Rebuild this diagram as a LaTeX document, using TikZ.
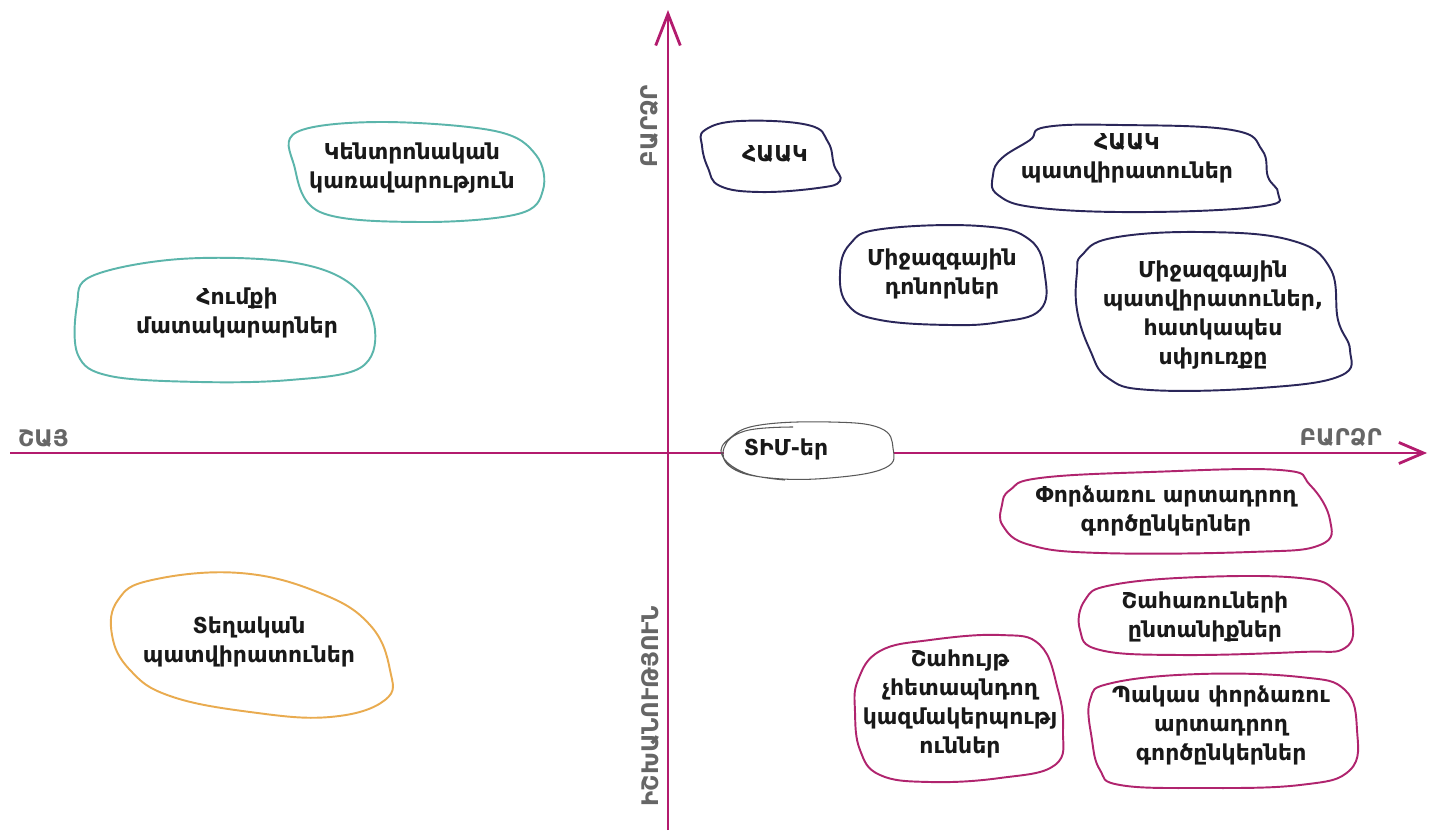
\documentclass[tikz,border=0pt]{standalone}
\usepackage{fontspec}
\setmainfont{DejaVu Sans}
\usetikzlibrary{arrows.meta, positioning}

\definecolor{axisred}{HTML}{B31B6E}
\definecolor{tealline}{HTML}{5BB5AB}
\definecolor{navyline}{HTML}{2A2659}
\definecolor{plumline}{HTML}{B0246E}
\definecolor{amberline}{HTML}{E9AB4F}
\definecolor{labelgray}{HTML}{666666}

\begin{document}
\begin{tikzpicture}[
        x=0.02cm, y=-0.02cm,
        actor/.style={align=center, font=\fontsize{12.5}{16.5}\selectfont\bfseries, text=black!90},
        blob/.style={line width=1.1pt, fill=white},
        axis/.style={line width=1.6pt, draw=axisred},
        axislabel/.style={font=\fontsize{13}{15}\selectfont\bfseries, text=labelgray}
    ]

    \useasboundingbox (0,0) rectangle (1430,835);

    % Axes
    \coordinate (xstart) at (10,453);
    \coordinate (xend) at (1427,453);
    \coordinate (ystart) at (668,830);
    \coordinate (yend) at (668,10);
    \draw[axis, -{Straight Barb[length=14pt, width=12pt, line width=1.6pt]}] (xstart) -- (xend);
    \draw[axis, -{Straight Barb[length=18pt, width=14pt, line width=1.6pt]}] (ystart) -- (yend);

    \node[axislabel, anchor=west] (low) at (12,438) {ՇԱՅ};
    \node[axislabel, anchor=east] (high) at (1388,438) {ԲԱՐՁՐ};
    \node[axislabel, rotate=90] (powerhigh) at (650,126) {ԲԱՐՁՐ};
    \node[axislabel, rotate=90] (power) at (650,706) {ԻՇԽԱՆՈՒԹՅՈՒՆ};

    % Blobs
    \draw[blob, draw=tealline] plot[smooth cycle, tension=0.6] coordinates {
        (297,132) (380,122) (495,131) (536,155) (543,190) (518,214)
        (420,222) (320,212) (294,165)};
    \draw[blob, draw=tealline] plot[smooth cycle, tension=0.6] coordinates {
        (92,276) (180,259) (290,262) (352,285) (375,330) (360,368)
        (290,380) (200,382) (110,376) (78,355) (77,305)};
    \draw[blob, draw=navyline] plot[smooth cycle, tension=0.7] coordinates {
        (705,130) (740,121) (808,125) (828,142) (834,165) (840,181)
        (818,188) (760,192) (720,186) (708,168) (702,146)};
    \draw[blob, draw=navyline] plot[smooth cycle, tension=0.7] coordinates {
        (1002,158) (1030,140) (1046,127) (1120,125) (1232,130) (1262,150)
        (1268,177) (1278,193) (1264,206) (1150,212) (1040,208) (998,195) (993,175)};
    \draw[blob, draw=navyline] plot[smooth cycle, tension=0.7] coordinates {
        (850,244) (882,229) (980,226) (1030,240) (1045,276) (1040,310)
        (1000,322) (950,325) (880,320) (848,305) (840,274)};
    \draw[blob, draw=navyline] plot[smooth cycle, tension=0.7] coordinates {
        (1082,255) (1112,238) (1200,232) (1290,240) (1330,268) (1338,320)
        (1350,350) (1340,376) (1260,388) (1150,390) (1108,378) (1090,350)
        (1077,310) (1077,272)};
    \draw[blob, draw=plumline] plot[smooth cycle, tension=0.7] coordinates {
        (1010,490) (1040,478) (1150,472) (1280,470) (1310,485) (1330,520)
        (1320,545) (1250,552) (1100,553) (1030,545) (1003,526) (1002,505)};
    \draw[blob, draw=amberline] plot[smooth cycle, tension=0.7] coordinates {
        (118,600) (152,580) (240,573) (320,593) (370,625) (390,670)
        (385,700) (330,717) (250,712) (170,696) (130,670) (112,635)};
    \draw[blob, draw=plumline] plot[smooth cycle, tension=0.7] coordinates {
        (1085,600) (1112,585) (1200,577) (1300,578) (1336,591) (1352,620)
        (1345,648) (1300,652) (1180,655) (1100,650) (1080,630)};
    \draw[blob, draw=plumline] plot[smooth cycle, tension=0.7] coordinates {
        (858,680) (880,651) (930,640) (1000,635) (1040,645) (1058,690)
        (1063,730) (1055,765) (1000,778) (930,782) (880,775) (860,750) (855,712)};
    \draw[blob, draw=plumline] plot[smooth cycle, tension=0.7] coordinates {
        (1090,700) (1112,683) (1200,674) (1300,677) (1345,690) (1357,730)
        (1350,770) (1300,785) (1200,788) (1120,785) (1100,770) (1092,740)};

    % Sketchy LSG loop
    \fill[white] plot[smooth cycle, tension=0.7] coordinates {
        (728,440) (760,426) (830,422) (880,428) (893,450) (885,468)
        (830,478) (765,478) (730,466)};
    \draw[line width=0.6pt, draw=black!65] plot[smooth, tension=0.7] coordinates {
        (793,427) (745,431) (724,448) (732,468) (770,478) (830,478)
        (885,468) (893,448) (880,428) (830,422) (760,425) (730,438)
        (722,455) (745,473) (785,480)};

    % Nodes
    \node[actor] (govt) at (412,168) {Կենտրոնական\\կառավարություն};
    \node[actor] (suppliers) at (237,313) {Հումքի\\մատակարարներ};
    \node[actor] (haak) at (775,154) {ՀԱԱԿ};
    \node[actor] (haakclients) at (1127,158) {ՀԱԱԿ\\պատվիրատուներ};
    \node[actor] (donors) at (942,274) {Միջազգային\\դոնորներ};
    \node[actor] (intlclients) at (1213,315) {Միջազգային\\պատվիրատուներ,\\հատկապես\\սփյուռքը};
    \node[actor] (lsg) at (786,449) {ՏԻՄ-եր};
    \node[actor] (seniorpartners) at (1166,511) {Փորձառու արտադրող\\գործընկերներ};
    \node[actor] (localclients) at (249,642) {Տեղական\\պատվիրատուներ};
    \node[actor] (families) at (1205,617) {Շահառուների\\ընտանիքներ};
    \node[actor] (ngos) at (960,704) {Շահույթ\\չհետապնդող\\կազմակերպությ\\ուններ};
    \node[actor] (juniorpartners) at (1221,725) {Պակաս փորձառու\\արտադրող\\գործընկերներ};

\end{tikzpicture}
\end{document}
